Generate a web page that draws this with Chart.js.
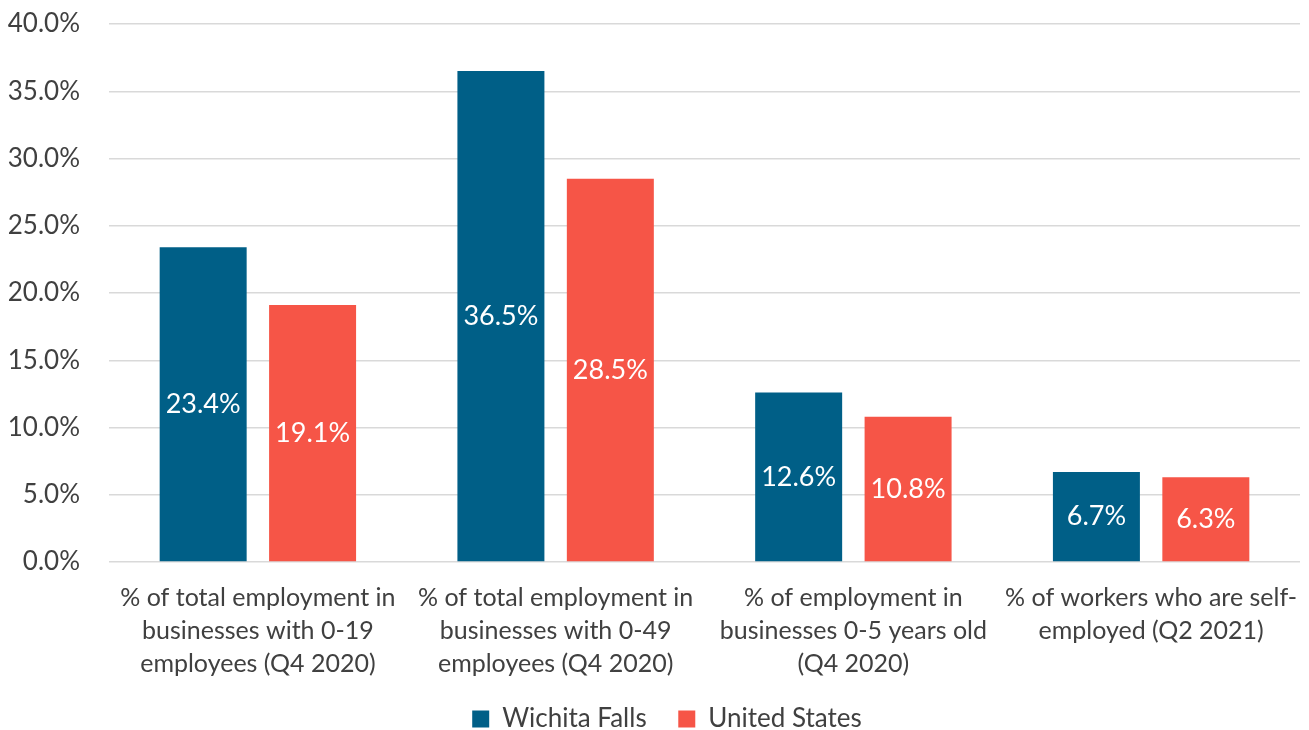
<!DOCTYPE html>
<html>
<head>
<meta charset="utf-8">
<script src="https://cdn.jsdelivr.net/npm/chart.js@4/dist/chart.umd.min.js"></script>
<style>
  html, body { margin: 0; padding: 0; background: #fff; }
  #wrap { width: 1309px; height: 730px; }
</style>
</head>
<body>
<div id="wrap"><canvas id="chart"></canvas></div>
<script>
// chart data
const categories = [
    ['% of total employment in', 'businesses with 0-19', 'employees (Q4 2020)'],
    ['% of total employment in', 'businesses with 0-49', 'employees (Q4 2020)'],
    ['% of employment in', 'businesses 0-5 years old', '(Q4 2020)'],
    ['% of workers who are self-', 'employed (Q2 2021)'],
];
const wichitaFalls = [23.4, 36.5, 12.6, 6.7];
const unitedStates = [19.1, 28.5, 10.8, 6.3];
const yTicks = [0, 5, 10, 15, 20, 25, 30, 35, 40];

const FONT = 'Lato, "Open Sans", sans-serif';
const TEXT = '#404040';

// draws the value text in the middle of each bar
const barLabels = {
    id: 'barLabels',
    afterDatasetsDraw(chart) {
        const { ctx } = chart;
        ctx.save();
        ctx.font = '27px ' + FONT;
        ctx.fillStyle = '#fff';
        ctx.textAlign = 'center';
        ctx.textBaseline = 'middle';
        chart.data.datasets.forEach((ds, i) => {
            chart.getDatasetMeta(i).data.forEach((bar, j) => {
                const mid = (bar.y + bar.base) / 2;
                ctx.fillText(ds.data[j].toFixed(1) + '%', bar.x, mid);
            });
        });
        ctx.restore();
    },
};

// the legend sits a little right of the canvas centre, under the plot
const legendShift = {
    id: 'legendShift',
    afterLayout(chart) {
        chart.legend.left += 17;
        chart.legend.right += 17;
    },
};

new Chart(document.getElementById('chart'), {
    type: 'bar',
    data: {
        labels: categories,
        datasets: [
            { label: 'Wichita Falls', data: wichitaFalls, backgroundColor: '#005f87' },
            { label: 'United States', data: unitedStates, backgroundColor: '#f65547' },
        ],
    },
    options: {
        responsive: true,
        maintainAspectRatio: false,
        animation: false,
        categoryPercentage: 0.735,
        barPercentage: 0.795,
        layout: { padding: { top: 0, right: 9, left: 0, bottom: -12 } },
        plugins: {
            legend: {
                position: 'bottom',
                labels: {
                    font: { family: FONT, size: 26 },
                    color: TEXT,
                    boxWidth: 17,
                    boxHeight: 17,
                    padding: 5,
                    generateLabels(chart) {
                        const items = Chart.defaults.plugins.legend.labels.generateLabels(chart);
                        // widen the gap between the two entries
                        items[0].text += '    ';
                        return items;
                    },
                },
            },
            tooltip: { enabled: false },
        },
        scales: {
            x: {
                grid: { display: false },
                border: { display: false },
                ticks: {
                    font: { family: FONT, size: 25, lineHeight: 1.32 },
                    color: TEXT,
                    maxRotation: 0,
                    autoSkip: false,
                    padding: 11,
                },
                afterFit(axis) {
                    axis.paddingLeft = 0;
                    axis.paddingRight = 0;
                    axis.height += 10;
                },
            },
            y: {
                min: 0,
                max: 40,
                afterBuildTicks(axis) {
                    axis.ticks = yTicks.map(v => ({ value: v }));
                },
                grid: { color: '#d9d9d9', lineWidth: 1.5, drawTicks: false },
                border: { display: false },
                ticks: {
                    font: { family: FONT, size: 26 },
                    color: TEXT,
                    padding: 29,
                    callback: v => v.toFixed(1) + '%',
                },
                afterFit(axis) {
                    axis.width = 109;
                    axis.paddingLeft = 0;
                    axis.paddingTop = 24;
                    axis.paddingBottom = 0;
                },
            },
        },
    },
    plugins: [barLabels, legendShift],
});
</script>
</body>
</html>
